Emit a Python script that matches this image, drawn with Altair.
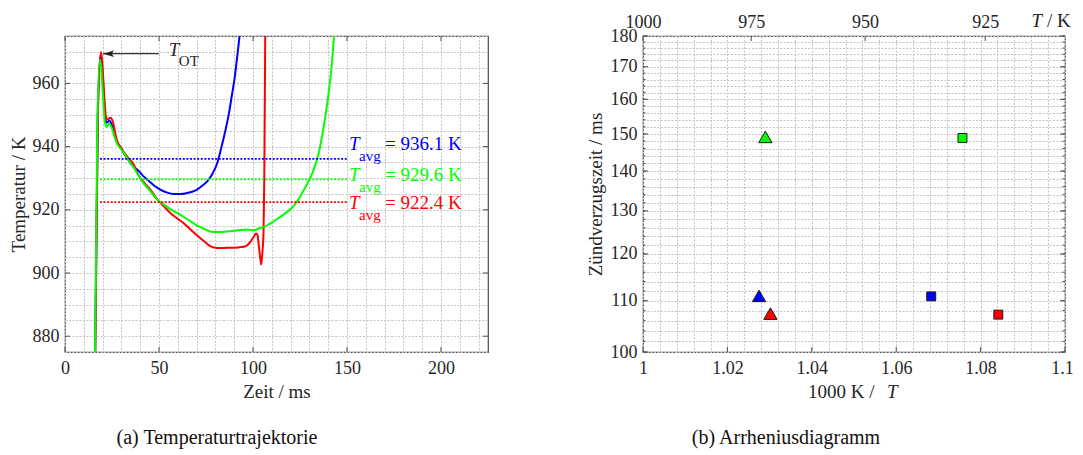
import altair as alt
import pandas as pd

# ---------------- (a) Temperaturtrajektorie : data ----------------
blue_t = [15.95, 17.4, 18.9, 21.5, 22.2, 23.6, 25.0, 26.5, 27.8, 29.5, 32.0, 34.8, 37.0, 39.3, 42.0,
          44.6, 47.5, 50.7, 54.0, 57.9, 61.5, 64.9, 68.0, 70.2, 73.0, 76.0, 78.5, 81.0, 83.0, 85.2,
          87.2, 88.8, 90.3, 91.5, 92.9, 93.6]
blue_T = [870.0, 949.0, 969.1, 948.6, 947.6, 948.2, 946.8, 943.5, 941.3, 939.8, 937.3, 934.8, 933.5, 932.2, 930.5,
          929.1, 927.6, 926.4, 925.5, 925.0, 925.0, 925.3, 925.8, 926.4, 927.6, 929.2, 931.5, 934.8, 939.3, 944.8,
          950.5, 956.4, 962.0, 968.0, 975.4, 980.0]

red_t = [16.0, 17.5, 19.1, 21.8, 22.5, 24.2, 25.5, 26.8, 27.8, 30.4, 33.5, 36.6, 38.4, 41.5, 45.4,
         48.5, 52.5, 56.0, 59.6, 63.0, 66.7, 70.0, 73.8, 77.0, 79.1, 83.0, 87.9, 92.0, 95.0, 97.0,
         98.5, 100.3, 101.7, 102.4, 103.0, 103.8, 104.4, 105.0, 105.6, 106.0, 106.5, 106.7]
red_T = [870.0, 950.0, 969.9, 949.5, 948.6, 949.1, 947.8, 944.0, 941.7, 939.1, 936.5, 934.3, 931.7, 929.0, 926.4,
         923.8, 921.2, 919.0, 917.3, 915.8, 913.8, 912.0, 910.1, 908.6, 908.1, 907.9, 908.0, 908.1, 908.3, 908.8,
         909.8, 911.4, 912.5, 912.0, 909.1, 905.0, 902.7, 906.5, 913.0, 930.0, 975.0, 990.0]

green_t = [15.9, 17.2, 18.6, 21.3, 22.2, 23.3, 25.1, 26.5, 27.8, 29.5, 31.3, 34.0, 36.6, 38.4, 41.5,
           45.4, 48.5, 52.5, 56.0, 59.6, 63.0, 66.7, 70.0, 73.8, 76.5, 79.1, 83.0, 87.9, 92.0, 96.8,
           100.3, 103.0, 105.6, 109.0, 112.7, 116.0, 119.7, 122.0, 124.2, 127.7, 131.3, 134.8, 137.5, 140.1, 141.9,
           143.1, 143.6]
green_T = [870.0, 948.0, 967.5, 947.5, 946.2, 947.3, 945.6, 942.8, 940.8, 939.4, 938.0, 935.5, 933.3, 931.5, 928.6,
           925.9, 923.6, 921.7, 920.2, 919.0, 917.8, 916.4, 915.1, 914.0, 913.3, 913.0, 913.0, 913.2, 913.5, 913.8,
           913.5, 914.1, 914.5, 915.6, 917.0, 918.4, 920.1, 921.5, 923.3, 927.0, 931.2, 937.5, 945.9, 956.4, 965.9,
           975.2, 980.0]

series = ["blau", "grün", "rot"]
colors = ["#0000ff", "#00ff00", "#ff0000"]
t_avg = [936.1, 929.6, 922.4]
t_avg_text = ["= 936.1 K", "= 929.6 K", "= 922.4 K"]
t_avg_x1 = [18.6, 18.6, 18.6]
t_avg_x2 = [150.0, 150.0, 150.0]

tot_arrow_tip = 20.2
tot_arrow_tail = 49.9
tot_level = 969.4

x_major_a = [0, 50, 100, 150, 200]
y_major_a = [880, 900, 920, 940, 960]
x_grid_a = list(range(0, 221, 10))
y_grid_a = list(range(875, 976, 5))

# ---------------- (b) Arrheniusdiagramm : data ----------------
tri_inv = [1.0275, 1.0290, 1.0302]      # 1000 K / T  (blau, grün, rot)
tri_delay = [111.0, 149.2, 107.4]
sq_inv = [1.0683, 1.0757, 1.0842]
sq_delay = [110.9, 148.9, 107.2]
top_T = [1000, 975, 950, 925]
x_major_b = [1.0, 1.02, 1.04, 1.06, 1.08, 1.1]
x_grid_b = [round(1.0 + 0.004 * i, 3) for i in range(26)]
y_major_b = list(range(100, 181, 10))
y_grid_b = list(range(100, 181, 2))

# ---------------- styling ----------------
W1, W2, H = 423, 422, 316
GAP = 155
FONT = "Liberation Serif"
TXT = "#262626"
EDGE = "#4d4d4d"
cscale = alt.Scale(domain=series, range=colors)

xs_a = alt.Scale(domain=[0, 225], nice=False, zero=False)
ys_a = alt.Scale(domain=[875, 975], nice=False, zero=False)

XA = alt.Axis(values=x_grid_a, labelExpr="datum.value % 50 === 0 ? datum.label : ''",
              title="Zeit / ms", grid=True, ticks=False, domain=False,
              labelPadding=21, labelBaseline="alphabetic", labelFlush=False, labelOverlap=False,
              titleY=45, titleBaseline="alphabetic")
YA = alt.Axis(values=y_grid_a, labelExpr="datum.value % 20 === 0 ? datum.label : ''",
              title="Temperatur / K", grid=True, ticks=False, domain=False,
              labelPadding=6, labelOverlap=False, labelFlush=False,
              titleX=-41, titleY=H / 2, titleBaseline="alphabetic")


def XQ(f):
    return alt.X(f, scale=xs_a, axis=XA)


def YQ(f):
    return alt.Y(f, scale=ys_a, axis=YA)


def line_layer(t, T, col):
    df = pd.DataFrame({"t": t, "T": T, "i": list(range(len(t)))})
    return alt.Chart(df).mark_line(color=col, strokeWidth=2, clip=True, interpolate="monotone").encode(
        x=XQ("t:Q"), y=YQ("T:Q"), order="i:Q")


lines = [
    line_layer(blue_t, blue_T, colors[0]),
    line_layer(red_t, red_T, colors[2]),
    line_layer(green_t, green_T, colors[1]),
]

avg_df = pd.DataFrame({"s": series, "T": t_avg, "x1": t_avg_x1, "x2": t_avg_x2, "lab": t_avg_text})
rules = alt.Chart(avg_df).mark_rule(strokeDash=[2, 1.6], strokeWidth=1.8).encode(
    x=XQ("x1:Q"), x2="x2:Q", y=YQ("T:Q"),
    color=alt.Color("s:N", scale=cscale, legend=None),
)

label_dy = [-8.5, 1.5, 6.5]
avg_labels = []
for k in range(3):
    d = avg_df.iloc[[k]]
    enc = dict(x=XQ("x2:Q"), y=YQ("T:Q"))
    avg_labels.append(alt.Chart(d).mark_text(text="T", font=FONT, fontSize=19, fontStyle="italic",
                                             align="left", baseline="alphabetic", dx=2, dy=label_dy[k],
                                             color=colors[k]).encode(**enc))
    avg_labels.append(alt.Chart(d).mark_text(text="avg", font=FONT, fontSize=15,
                                             align="left", baseline="alphabetic", dx=12, dy=label_dy[k] + 11,
                                             color=colors[k]).encode(**enc))
    avg_labels.append(alt.Chart(d).mark_text(font=FONT, fontSize=19, align="left", baseline="alphabetic",
                                             dx=38, dy=label_dy[k], color=colors[k]).encode(
        text="lab:N", **enc))

arr_df = pd.DataFrame({"tip": [tot_arrow_tip], "tail": [tot_arrow_tail], "y": [tot_level]})
arrow_shaft = alt.Chart(arr_df).mark_rule(color="#333333", strokeWidth=1.2).encode(
    x=XQ("tip:Q"), x2="tail:Q", y=YQ("y:Q"))
arrow_head = alt.Chart(arr_df).mark_point(shape="M0,0L2,-0.6L1.6,0L2,0.6Z", size=121, filled=True,
                                          color="#222222", opacity=1).encode(x=XQ("tip:Q"), y=YQ("y:Q"))
tot_T = alt.Chart(arr_df).mark_text(text="T", font=FONT, fontSize=19, fontStyle="italic", align="left",
                                    baseline="alphabetic", dx=10, dy=2.5, color=TXT).encode(
    x=XQ("tail:Q"), y=YQ("y:Q"))
tot_sub = alt.Chart(arr_df).mark_text(text="OT", font=FONT, fontSize=15, align="left",
                                      baseline="alphabetic", dx=20, dy=12.5, color=TXT).encode(
    x=XQ("tail:Q"), y=YQ("y:Q"))


def xticks(vals, xenc, h, ln=5, top=True):
    df = pd.DataFrame({"v": vals})
    out = [alt.Chart(df).mark_rule(color=EDGE, strokeWidth=1).encode(
        x=xenc("v:Q"), y=alt.value(h), y2=alt.value(h - ln))]
    if top:
        out.append(alt.Chart(df).mark_rule(color=EDGE, strokeWidth=1).encode(
            x=xenc("v:Q"), y=alt.value(0), y2=alt.value(ln)))
    return out


def yticks(vals, yenc, w, ln=5):
    df = pd.DataFrame({"v": vals})
    return [
        alt.Chart(df).mark_rule(color=EDGE, strokeWidth=1).encode(
            y=yenc("v:Q"), x=alt.value(0), x2=alt.value(ln)),
        alt.Chart(df).mark_rule(color=EDGE, strokeWidth=1).encode(
            y=yenc("v:Q"), x=alt.value(w), x2=alt.value(w - ln)),
    ]


cap_df = pd.DataFrame({"c": ["(a) Temperaturtrajektorie", "(b) Arrheniusdiagramm"]})
cap_a = alt.Chart(cap_df.iloc[[0]]).mark_text(font=FONT, fontSize=20, align="center", baseline="alphabetic",
                                              color="#111111").encode(
    text="c:N", x=alt.value(152), y=alt.value(H + 92))
cap_b = alt.Chart(cap_df.iloc[[1]]).mark_text(font=FONT, fontSize=20, align="center", baseline="alphabetic",
                                              color="#111111").encode(
    text="c:N", x=alt.value(143), y=alt.value(H + 92))

left = alt.layer(
    *lines, rules, *avg_labels, arrow_shaft, arrow_head, tot_T, tot_sub,
    *xticks(x_major_a, XQ, H), *yticks(y_major_a, YQ, W1), cap_a,
).properties(width=W1, height=H)

# ---------------- right panel ----------------
xs_b = alt.Scale(domain=[1.0, 1.1], nice=False, zero=False)
ys_b = alt.Scale(type="log", domain=[100, 180], nice=False)

YB = alt.Axis(values=y_grid_b, labelExpr="datum.value % 10 === 0 ? format(datum.value, 'd') : ''",
              title="Zündverzugszeit / ms", grid=True, ticks=False, domain=False, labelPadding=6,
              labelOverlap=False, labelFlush=False, titleX=-42, titleY=H / 2, titleBaseline="alphabetic")
XB_bottom = alt.Axis(
    values=x_grid_b,
    labelExpr="abs(datum.value*50 - round(datum.value*50)) < 1e-6 ? format(datum.value, '.2~f') : ''",
    title=None, grid=True, ticks=False, domain=False, labelPadding=21, labelBaseline="alphabetic",
    labelFlush=False, labelOverlap=False,
    labelOffset={"condition": {"test": "datum.value > 1.09", "value": -3}, "value": 0})
XB_top = alt.Axis(
    orient="top", values=[1000.0 / T for T in top_T], labelExpr="format(1000/datum.value, '.0f')",
    title=None, grid=False, ticks=False, domain=False, labelPadding=9, labelBaseline="alphabetic",
    labelFlush=False, labelOverlap=False)


def XBn(f):
    return alt.X(f, scale=xs_b, axis=None)


def YBq(f):
    return alt.Y(f, scale=ys_b, axis=YB)


sq_df = pd.DataFrame({"s": series, "x": sq_inv, "y": sq_delay})
tri_df = pd.DataFrame({"s": series, "x": tri_inv, "y": tri_delay})

squares = alt.Chart(sq_df).mark_point(shape="square", filled=True, size=80, stroke="#1a1a1a",
                                      strokeWidth=1, opacity=1).encode(
    x=alt.X("x:Q", scale=xs_b, axis=XB_bottom), y=YBq("y:Q"),
    fill=alt.Fill("s:N", scale=cscale, legend=None),
)
triangles = alt.Chart(tri_df).mark_point(shape="triangle-up", filled=True, size=177, stroke="#1a1a1a",
                                         strokeWidth=1, opacity=1).encode(
    x=alt.X("x:Q", scale=xs_b, axis=XB_top), y=YBq("y:Q"),
    fill=alt.Fill("s:N", scale=cscale, legend=None),
)

top_ticks = alt.Chart(pd.DataFrame({"T": top_T})).transform_calculate(v="1000 / datum.T").mark_rule(
    color=EDGE, strokeWidth=1).encode(x=XBn("v:Q"), y=alt.value(0), y2=alt.value(5))

one_df = pd.DataFrame({"a": [0]})


def label(txt, x, y, italic=False, align="left", size=19):
    kw = dict(text=txt, font=FONT, fontSize=size, align=align, baseline="alphabetic", color=TXT)
    if italic:
        kw["fontStyle"] = "italic"
    return alt.Chart(one_df).mark_text(**kw).encode(x=alt.value(x), y=alt.value(y))


right = alt.layer(
    squares, triangles,
    *xticks(x_major_b, XBn, H, top=False), top_ticks,
    *yticks(y_major_b, YBq, W2, 5), *yticks(y_grid_b, YBq, W2, 2.5),
    label("1000 K /", 165, H + 46), label("T", 244, H + 46, italic=True),
    label("T", 399, -9, italic=True, align="right"), label("/ K", 404, -9),
    cap_b,
).resolve_axis(x="independent").properties(width=W2, height=H)

chart = alt.hconcat(left, right, spacing=GAP, bounds="flush").properties(
    padding={"left": 0, "top": 3, "right": 0, "bottom": 2}
).configure(font=FONT).configure_text(font=FONT).configure_axis(
    labelFont=FONT, labelFontSize=18, labelColor=TXT,
    titleFont=FONT, titleFontSize=19, titleFontWeight="normal", titleColor=TXT,
    gridColor="#c4c4c4", gridDash=[2, 1.5], gridWidth=1,
).configure_view(stroke=EDGE, strokeWidth=1.2)

chart.save("out.html", embed_options={"renderer": "svg", "actions": False})
